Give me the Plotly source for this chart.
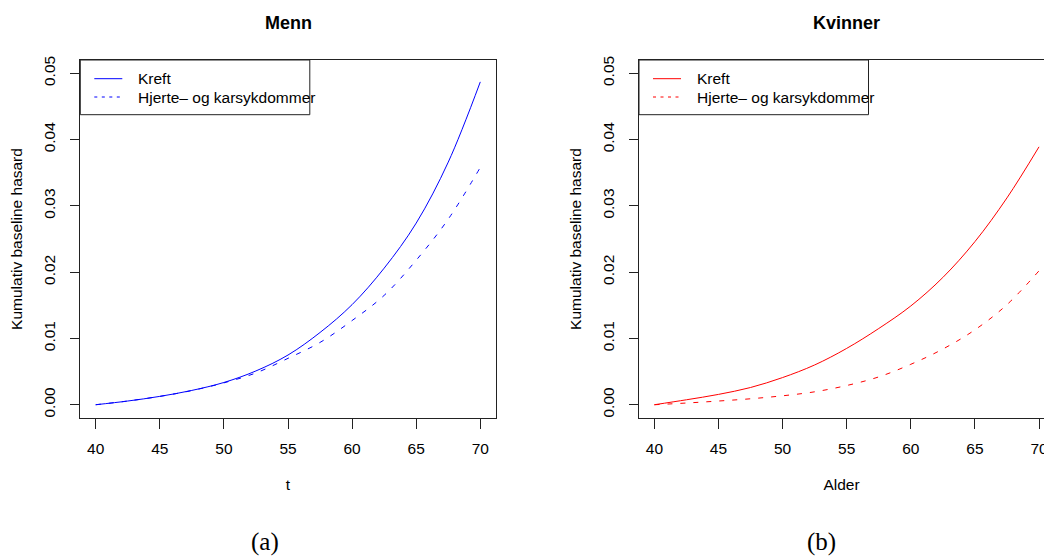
import plotly.graph_objects as go

# Cumulative baseline hazard by age (years 40-70)
ages = [40, 42.5, 45, 47.5, 50, 52.5, 55, 57.5, 60, 62.5, 65, 67.5, 70]

menn_kreft = [0.0, 0.00056, 0.00126, 0.00216, 0.00336, 0.0051, 0.0075, 0.0109,
              0.0151, 0.0206, 0.0274, 0.0366, 0.0487]
menn_hjerte = [0.0, 0.00056, 0.00126, 0.00214, 0.0033, 0.0048, 0.0070, 0.0094,
               0.0127, 0.0165, 0.0218, 0.0280, 0.0358]

kvinner_kreft = [0.0, 0.00075, 0.00156, 0.0026, 0.0041, 0.0060, 0.0085, 0.0115,
                 0.0149, 0.0192, 0.0246, 0.0312, 0.0389]
kvinner_hjerte = [0.0, 0.00026, 0.00056, 0.0009, 0.00135, 0.00195, 0.0029, 0.0042,
                  0.0061, 0.0084, 0.0113, 0.0151, 0.0202]

x_ticks = [40, 45, 50, 55, 60, 65, 70]
y_ticks = [0.0, 0.01, 0.02, 0.03, 0.04, 0.05]
y_ticktext = ["0.00", "0.01", "0.02", "0.03", "0.04", "0.05"]

series_names = ["Kreft", "Hjerte\u2013 og karsykdommer"]
panel_titles = ["Menn", "Kvinner"]
x_titles = ["t", "Alder"]
y_title = "Kumulativ baseline hasard"
captions = ["(a)", "(b)"]

W, H = 1044, 556
ML, MR, MT, MB = 80, 0, 60, 138
PW = W - ML - MR
PH = H - MT - MB

SANS = "Liberation Sans, Arial, Helvetica, sans-serif"
SERIF = "Liberation Serif, Times New Roman, serif"
INK = "#222222"
BLUE = "#0000FF"
RED = "#FF0000"
CURVE_DASH = "5px,8px"
KEY_DASH = "3px,4.5px"
FS = 15.5


def px(xp):
    return (xp - ML) / PW


def py(yp):
    return (MT + PH - yp) / PH


# panel boxes in page pixels: left, right
left_box = (80.3, 495.7)
right_box = (639.0, 1044.0)
px_per_year = (left_box[1] - left_box[0]) / 32.4
x_lo = 38.8

fig = go.Figure()

panels = [
    (menn_kreft, menn_hjerte, BLUE, "x", "y"),
    (kvinner_kreft, kvinner_hjerte, RED, "x2", "y2"),
]
for i, (kreft, hjerte, col, xa, ya) in enumerate(panels):
    fig.add_trace(go.Scatter(
        x=ages, y=kreft, mode="lines", name=series_names[0],
        line=dict(color=col, width=1, shape="spline"),
        xaxis=xa, yaxis=ya, showlegend=False, hoverinfo="x+y"))
    fig.add_trace(go.Scatter(
        x=ages, y=hjerte, mode="lines", name=series_names[1],
        line=dict(color=col, width=1, dash=CURVE_DASH, shape="spline"),
        xaxis=xa, yaxis=ya, showlegend=False, hoverinfo="x+y"))

common_x = dict(
    tickvals=x_ticks, ticks="outside", ticklen=10, tickcolor=INK, tickwidth=1,
    showline=True, linecolor=INK, linewidth=1, mirror=True,
    showgrid=False, zeroline=False, automargin=False,
    ticklabeloverflow="allow", ticklabelstandoff=6,
    tickfont=dict(family=SANS, size=FS, color="#000"),
    title=dict(font=dict(family=SANS, size=FS, color="#000"), standoff=23),
)
common_y = dict(
    range=[-0.002, 0.052], tickvals=y_ticks, ticktext=y_ticktext,
    tickangle=-90, ticks="outside", ticklen=9, tickcolor=INK, tickwidth=1,
    showline=True, linecolor=INK, linewidth=1,
    showgrid=False, zeroline=False, automargin=False,
    ticklabeloverflow="allow", ticklabelstandoff=9,
    tickfont=dict(family=SANS, size=FS, color="#000"),
    title=dict(text=y_title, font=dict(family=SANS, size=FS, color="#000"),
               standoff=14),
)

fig.update_layout(
    width=W, height=H,
    margin=dict(l=ML, r=MR, t=MT, b=MB, pad=0),
    paper_bgcolor="white", plot_bgcolor="white",
    showlegend=False,
    xaxis=dict(common_x, domain=[px(left_box[0]), px(left_box[1])],
               range=[x_lo, x_lo + 32.4], anchor="y",
               title=dict(common_x["title"], text=x_titles[0])),
    yaxis=dict(common_y, domain=[0, 1], anchor="x", mirror=True),
    xaxis2=dict(common_x, domain=[px(right_box[0]), 1.0],
                range=[x_lo, x_lo + (right_box[1] - right_box[0]) / px_per_year],
                anchor="y2",
                title=dict(common_x["title"], text=x_titles[1])),
    yaxis2=dict(common_y, domain=[0, 1], anchor="x2", mirror=False),
)

shapes = []
annotations = []
for i, (x0, col) in enumerate([(left_box[0], BLUE), (right_box[0], RED)]):
    # key box in the top-left corner of each panel
    shapes.append(dict(type="rect", xref="paper", yref="paper",
                       x0=px(x0), x1=px(x0 + 229.5), y0=py(114.7), y1=py(60),
                       line=dict(color=INK, width=1), fillcolor="rgba(0,0,0,0)"))
    for j, (yy, dash) in enumerate([(78.7, "solid"), (97.0, KEY_DASH)]):
        shapes.append(dict(type="line", xref="paper", yref="paper",
                           x0=px(x0 + 14), x1=px(x0 + 42), y0=py(yy), y1=py(yy),
                           line=dict(color=col, width=1, dash=dash)))
        annotations.append(dict(xref="paper", yref="paper", x=px(x0 + 55.5), y=py(yy),
                                text=series_names[j], showarrow=False,
                                xanchor="left", yanchor="middle",
                                font=dict(family=SANS, size=FS, color="#000")))

for title, cx, cap, capx in [(panel_titles[0], 288.0, captions[0], 265.0),
                             (panel_titles[1], 846.0, captions[1], 821.7)]:
    annotations.append(dict(xref="paper", yref="paper", x=px(cx), y=py(23.3),
                            text="<b>" + title + "</b>", showarrow=False,
                            xanchor="center", yanchor="middle",
                            font=dict(family=SANS, size=18, color="#000")))
    annotations.append(dict(xref="paper", yref="paper", x=px(capx), y=py(542),
                            text=cap, showarrow=False,
                            xanchor="center", yanchor="middle",
                            font=dict(family=SERIF, size=25, color="#000")))

fig.update_layout(shapes=shapes, annotations=annotations)

fig.write_html("out.html", config={"displayModeBar": False})
